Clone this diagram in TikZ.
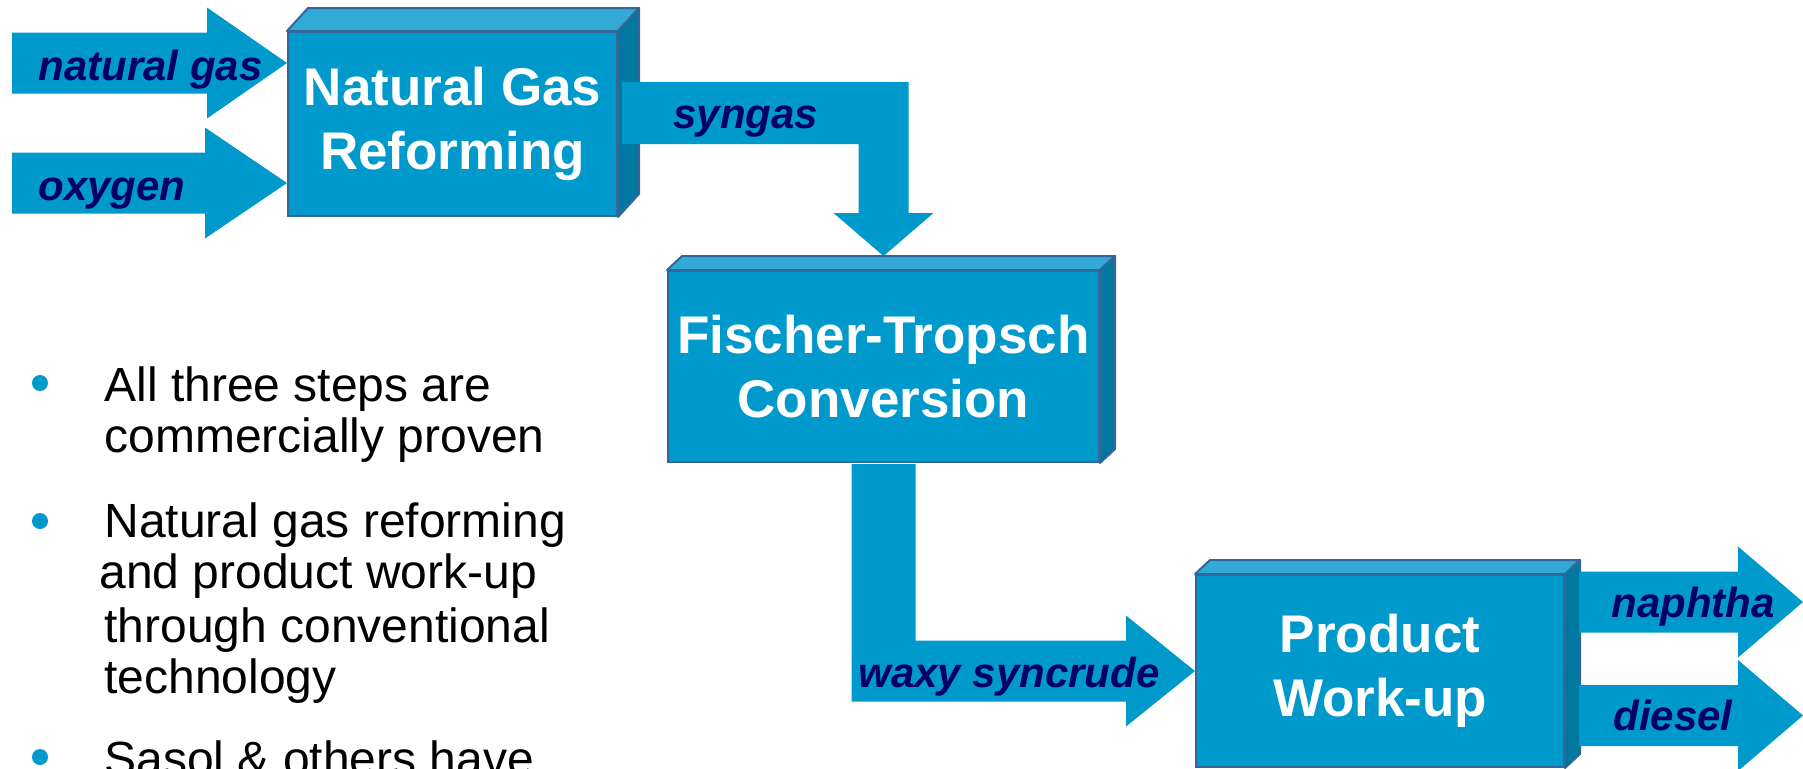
\documentclass[tikz,border=0pt]{standalone}
\usepackage{fontspec}
\setmainfont{Liberation Sans}
\usetikzlibrary{calc}

\definecolor{flowblue}{RGB}{0,153,204}
\definecolor{topblue}{RGB}{51,170,214}
\definecolor{sideblue}{RGB}{0,120,160}
\definecolor{edgeblue}{RGB}{51,102,153}
\definecolor{labelnavy}{RGB}{0,0,102}

\tikzset{
  stage/.style={draw=edgeblue, line width=1pt, fill=flowblue, inner sep=0pt,
    text=white, align=center, font=\fontsize{26.5}{32}\selectfont\bfseries},
  topface/.style={draw=edgeblue, line width=1pt, fill=topblue, line join=round},
  sideface/.style={draw=edgeblue, line width=1pt, fill=sideblue, line join=round},
  flow/.style={fill=flowblue},
  flowlabel/.style={anchor=base west, inner sep=0pt, text=labelnavy,
    font=\fontsize{21}{25}\selectfont\bfseries\itshape},
  bullettext/.style={anchor=base west, inner sep=0pt, font=\fontsize{24}{26}\selectfont}
}

% top and right faces of a stage box: node, dx, dy
\newcommand{\boxfaces}[3]{%
  \filldraw[topface] (#1.north west) -- ++(#2,#3) -- ([shift={(#2,#3)}]#1.north east) -- (#1.north east) -- cycle;
  \filldraw[sideface] (#1.north east) -- ++(#2,#3) -- ([shift={(#2,#3)}]#1.south east) -- (#1.south east) -- cycle;
}
% straight block arrow: tail, tip, head length
\newcommand{\flowright}[3]{%
  \fill[flow] ($(#1)+(0,-30.5)$) -- ($(#2)+(-#3,-30.5)$) -- ($(#2)+(-#3,-55.5)$) -- (#2)
    -- ($(#2)+(-#3,55.5)$) -- ($(#2)+(-#3,30.5)$) -- ($(#1)+(0,30.5)$) -- cycle;
}

\begin{document}
\begin{tikzpicture}[x=0.5pt, y=-0.5pt]
\clip (0,0) rectangle (1803,768);

% process steps
\node [stage, minimum width=164.5pt, minimum height=92pt] (ngr) at (452.5,124) {Natural Gas\\Reforming};
\boxfaces{ngr}{21}{-23}
\node [stage, minimum width=215.5pt, minimum height=95.5pt] (ft) at (883.5,366.5) {Fischer-Tropsch\\Conversion};
\boxfaces{ft}{15}{-14}
\node [stage, minimum width=184pt, minimum height=96pt] (pwu) at (1380,671) {Product\\Work-up};
\boxfaces{pwu}{15}{-14}

% feeds
\coordinate (ngin) at (12,63);
\coordinate (oxin) at (12,183);
\flowright{ngin}{ngin -| ngr.west}{80}
\flowright{oxin}{oxin -| ngr.west}{82}

% syngas
\coordinate (syntip) at ($(ft.north)+(0,-14)$);
\fill[flow] (622,82) -| ($(syntip)+(25,-43)$) -- ++(25,0) -- (syntip) -- ++(-50,-43) -- ++(25,0) |- (622,144) -- cycle;

% waxy syncrude
\fill[flow] ($(ft.south)+(-32,1)$) -- ++(64,0) |- ($(pwu.west)+(-69,-30.5)$) -- ++(0,-25) -- (pwu.west)
  -- ++(-69,55.5) -- ++(0,-25) -| ($(ft.south)+(-32,1)$) -- cycle;

% products
\coordinate (napout) at (1579,602);
\coordinate (dieout) at (1579,715.5);
\flowright{napout}{1803,602}{65}
\flowright{dieout}{1803,715.5}{65}

% stream labels
\node [flowlabel] (nglabel) at (38,80) {natural gas};
\node [flowlabel] (oxlabel) at (38,200) {oxygen};
\node [flowlabel] (synlabel) at (673,128) {syngas};
\node [flowlabel] (waxlabel) at (858,687) {waxy syncrude};
\node [flowlabel] (naplabel) at (1611,617) {naphtha};
\node [flowlabel] (dielabel) at (1613,730) {diesel};

% bullets
\foreach \yy in {383,521,757}
  \fill[flowblue] (40,\yy) circle (8);
\foreach \txt/\yy [count=\i] in {All three steps are/401, commercially proven/452,
    Natural gas reforming/537, \hspace*{-2.5pt}and product work-up/588,
    through conventional/642, technology/693, Sasol \& others have/775}
  \node [bullettext] (line\i) at (104,\yy) {\txt};
\end{tikzpicture}
\end{document}
